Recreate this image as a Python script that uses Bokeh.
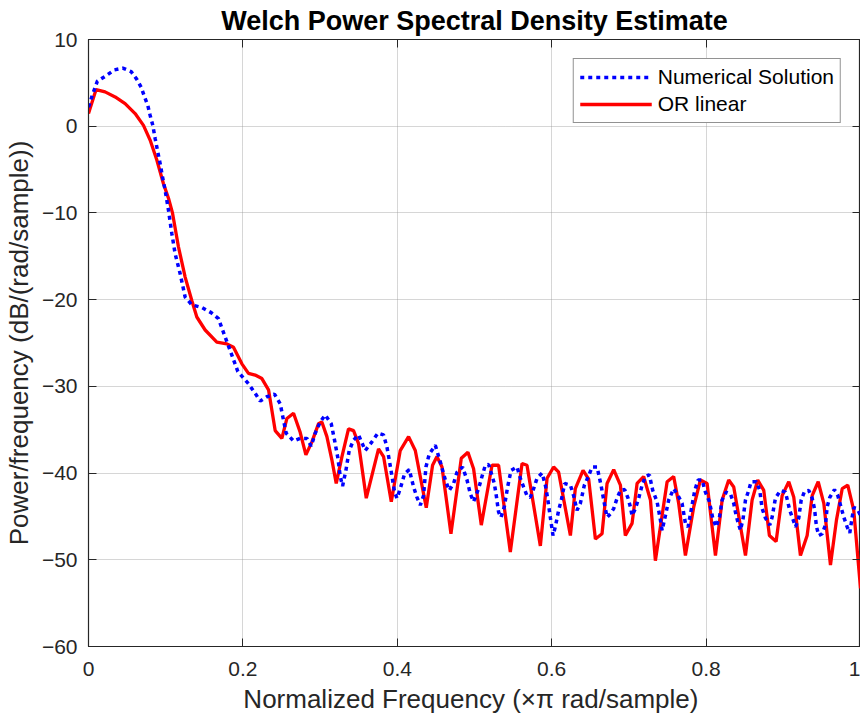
from bokeh.plotting import figure
from bokeh.models import Range1d, LinearAxis, Legend, LegendItem, FixedTicker
from bokeh.embed import file_html
from bokeh.resources import INLINE

# ---- data ----
red_x = [0, 0.0098, 0.0215, 0.0345, 0.0474, 0.0604, 0.0712, 0.0798, 0.0885, 0.097,
         0.1036, 0.1088, 0.1165, 0.1252, 0.1338, 0.1403, 0.1511, 0.1662, 0.1792, 0.1878,
         0.1987, 0.2072, 0.2159, 0.2246, 0.2332, 0.2418, 0.2505, 0.2570, 0.2656, 0.2742,
         0.2816, 0.2894, 0.2980, 0.3023, 0.3088, 0.3153, 0.3209, 0.3283, 0.3368, 0.3433,
         0.3498, 0.3598, 0.3757, 0.3822, 0.3922, 0.4038, 0.4146, 0.4233, 0.4375, 0.4457,
         0.4514, 0.4579, 0.4695, 0.4829, 0.4915, 0.4988, 0.5088, 0.5227, 0.5312, 0.5464,
         0.5616, 0.5680, 0.5853, 0.5940, 0.6025, 0.6090, 0.6242, 0.6306, 0.6406, 0.6479,
         0.6566, 0.6652, 0.6717, 0.6803, 0.6890, 0.6954, 0.7041, 0.7106, 0.7191, 0.7279,
         0.7343, 0.7495, 0.7580, 0.7645, 0.7732, 0.7840, 0.7926, 0.8013, 0.8121, 0.8208,
         0.8293, 0.8358, 0.8510, 0.8596, 0.8669, 0.8747, 0.8820, 0.8907, 0.8985, 0.9071,
         0.9136, 0.9222, 0.9309, 0.9374, 0.9452, 0.9525, 0.9611, 0.9689, 0.9763, 0.9835,
         0.9913, 1.0]
red_y = [1.46, 4.23, 3.96, 3.38, 2.61, 1.46, 0.1, -1.6, -3.9, -6.6,
         -8.3, -10.0, -13.9, -17.4, -20.1, -22.0, -23.5, -24.9, -25.1, -25.5,
         -27.4, -28.5, -28.7, -29.1, -30.4, -35.1, -36.0, -33.7, -33.1, -35.3,
         -37.9, -36.4, -34.3, -34.1, -35.8, -38.5, -41.2, -38.1, -34.9, -35.1,
         -36.6, -42.9, -37.2, -38.1, -43.3, -37.4, -35.8, -37.4, -44.0, -39.1,
         -38.1, -39.3, -47.0, -38.3, -37.6, -39.5, -46.0, -39.1, -39.1, -49.1,
         -38.9, -39.1, -48.4, -40.6, -39.3, -39.9, -47.2, -41.8, -39.7, -40.7,
         -47.6, -47.0, -41.2, -39.6, -41.4, -47.2, -45.8, -41.2, -40.4, -43.1,
         -50.1, -41.0, -40.4, -43.5, -49.5, -43.9, -40.8, -41.2, -49.5, -43.1,
         -40.8, -41.6, -49.5, -43.1, -40.8, -42.0, -47.2, -47.9, -42.6, -41.0,
         -42.8, -49.5, -47.2, -42.6, -41.0, -43.5, -50.6, -45.4, -41.8, -41.4,
         -44.3, -53.3]

blue_x = [0, 0.0043, 0.0115, 0.0224, 0.0336, 0.0444, 0.0552, 0.0626, 0.0682, 0.0725,
          0.0768, 0.0798, 0.0833, 0.0863, 0.0898, 0.0928, 0.0958, 0.0993, 0.1036, 0.1080,
          0.1122, 0.1187, 0.1252, 0.1338, 0.1468, 0.1589, 0.1684, 0.1770, 0.1857, 0.1935,
          0.2072, 0.2159, 0.2224, 0.2311, 0.2409, 0.2483, 0.2526, 0.2561, 0.2656, 0.2742,
          0.2829, 0.2885, 0.2937, 0.3002, 0.3066, 0.3144, 0.3187, 0.3231, 0.3261, 0.3291,
          0.3334, 0.3377, 0.3433, 0.3498, 0.3585, 0.3671, 0.3749, 0.3822, 0.3866, 0.3900,
          0.3939, 0.3965, 0.3996, 0.4038, 0.4094, 0.4155, 0.4211, 0.4255, 0.4298, 0.4340,
          0.4371, 0.4414, 0.4492, 0.4557, 0.4622, 0.4673, 0.4729, 0.4773, 0.4846, 0.4903,
          0.4946, 0.4988, 0.5053, 0.5097, 0.5140, 0.5183, 0.5257, 0.5282, 0.5312, 0.5343,
          0.5386, 0.5429, 0.5473, 0.5551, 0.5594, 0.5636, 0.5680, 0.5723, 0.5766, 0.5810,
          0.5875, 0.5918, 0.5947, 0.5982, 0.6017, 0.6047, 0.6090, 0.6125, 0.6168, 0.6242,
          0.6284, 0.6328, 0.6371, 0.6423, 0.6479, 0.6523, 0.6588, 0.6639, 0.6682, 0.6717,
          0.6760, 0.6803, 0.6847, 0.6890, 0.6945, 0.6989, 0.7019, 0.7041, 0.7084, 0.7127,
          0.7171, 0.7214, 0.7265, 0.7309, 0.7365, 0.7408, 0.7430, 0.7473, 0.7516, 0.7580,
          0.7637, 0.7689, 0.7732, 0.7767, 0.7810, 0.7853, 0.7896, 0.7948, 0.7991, 0.8043,
          0.8086, 0.8130, 0.8173, 0.8208, 0.8260, 0.8315, 0.8358, 0.8380, 0.8410, 0.8445,
          0.8480, 0.8510, 0.8552, 0.8583, 0.8652, 0.8695, 0.8726, 0.8769, 0.8825, 0.8855,
          0.8898, 0.8963, 0.9028, 0.9084, 0.9128, 0.9158, 0.9200, 0.9232, 0.9275, 0.9330,
          0.9374, 0.9404, 0.9430, 0.9460, 0.9503, 0.9546, 0.9568, 0.9602, 0.9663, 0.9706,
          0.9741, 0.9784, 0.9827, 0.9861, 0.9892, 0.9913, 0.9957, 1.0]
blue_y = [2.2, 3.4, 5.2, 5.8, 6.5, 6.7, 6.3, 5.4, 4.5, 3.4,
          2.4, 1.27, 0.1, -1.4, -3.0, -4.3, -5.8, -7.4, -9.7, -12.4,
          -14.7, -17.0, -19.7, -20.6, -20.9, -21.5, -22.2, -24.3, -26.4, -28.3,
          -29.7, -30.8, -31.7, -31.2, -30.9, -32.0, -33.9, -35.4, -36.3, -36.0,
          -36.0, -36.9, -35.4, -34.1, -33.3, -34.3, -36.2, -38.3, -40.4, -41.5,
          -39.7, -37.4, -36.2, -35.6, -37.4, -36.4, -35.4, -35.6, -37.0, -38.7,
          -40.8, -42.2, -42.9, -41.8, -40.1, -39.6, -41.6, -42.8, -43.7, -42.6,
          -39.3, -37.8, -36.8, -38.7, -40.8, -42.0, -41.2, -39.9, -39.3, -40.8,
          -42.4, -43.3, -41.8, -40.4, -39.1, -39.0, -41.2, -42.6, -44.5, -45.1,
          -43.9, -41.6, -39.7, -39.3, -40.6, -41.6, -42.6, -42.8, -41.8, -40.6,
          -40.0, -41.4, -42.9, -45.1, -47.2, -46.2, -44.3, -43.1, -41.2, -41.4,
          -42.6, -44.3, -43.5, -41.4, -40.3, -39.3, -39.3, -41.4, -43.5, -45.1,
          -44.7, -44.1, -42.9, -42.0, -41.9, -42.9, -43.9, -44.9, -44.1, -42.9,
          -41.4, -40.4, -40.2, -42.0, -43.3, -45.4, -46.6, -44.9, -43.1, -41.8,
          -42.6, -43.5, -45.8, -46.2, -44.1, -42.0, -40.8, -40.8, -42.2, -43.3,
          -45.2, -46.2, -45.1, -43.1, -42.2, -42.4, -43.5, -44.5, -45.6, -46.6,
          -45.2, -43.1, -42.0, -41.0, -41.0, -42.0, -44.1, -45.2, -46.0, -45.1,
          -42.9, -42.0, -42.2, -44.3, -45.4, -46.2, -45.2, -43.1, -42.1, -42.0,
          -42.9, -44.1, -46.2, -47.2, -47.0, -46.0, -43.9, -42.8, -41.9, -42.6,
          -43.7, -45.1, -46.2, -46.9, -45.1, -44.0, -44.1, -44.9]

x_ticks = [0, 0.2, 0.4, 0.6, 0.8, 1]
y_ticks = [-60, -50, -40, -30, -20, -10, 0, 10]
series_labels = ["Numerical Solution", "OR linear"]
title_text = "Welch Power Spectral Density Estimate"
x_label = "Normalized Frequency  (\u00d7\u03c0 rad/sample)"
y_label = "Power/frequency (dB/(rad/sample))"

FONT = "Liberation Sans"
AX = "#262626"

p = figure(width=860, height=720, output_backend="svg", toolbar_location=None,
           x_range=Range1d(0, 1), y_range=Range1d(-60, 10),
           min_border_left=88, min_border_right=0, min_border_top=39, min_border_bottom=74)

p.title.text = title_text
p.title.align = "center"
p.title.text_font = FONT
p.title.text_font_size = "27px"
p.title.text_font_style = "bold"
p.title.text_color = "black"
p.title.offset = 0
p.title.standoff = 7

p.outline_line_color = AX
p.outline_line_width = 1.2
p.background_fill_color = "white"
p.border_fill_color = "white"

for ax in (p.xaxis[0], p.yaxis[0]):
    ax.axis_line_color = AX
    ax.major_tick_line_color = AX
    ax.major_tick_in = 8
    ax.major_tick_out = 0
    ax.minor_tick_line_color = None
    ax.major_label_text_font = FONT
    ax.major_label_text_font_size = "21px"
    ax.major_label_text_color = AX
    ax.axis_label_text_font = FONT
    ax.axis_label_text_font_size = "26px"
    ax.axis_label_text_font_style = "normal"
    ax.axis_label_text_color = AX

p.xaxis[0].ticker = FixedTicker(ticks=x_ticks)
p.yaxis[0].ticker = FixedTicker(ticks=y_ticks)
p.xaxis[0].major_label_overrides = {0: "0", 1: "1"}
p.xaxis[0].axis_label = x_label
p.yaxis[0].axis_label = y_label
p.xaxis[0].major_label_standoff = 15
p.yaxis[0].major_label_standoff = 11
p.xaxis[0].axis_label_standoff = 5
p.yaxis[0].axis_label_standoff = 5

for loc, ticks in (("right", y_ticks), ("above", x_ticks)):
    a = LinearAxis(ticker=FixedTicker(ticks=ticks))
    a.axis_line_color = AX
    a.major_tick_line_color = AX
    a.major_tick_in = 8
    a.major_tick_out = 0
    a.minor_tick_line_color = None
    a.major_label_text_font_size = "0px"
    a.major_label_standoff = 0
    p.add_layout(a, loc)

for g in (p.xgrid[0], p.ygrid[0]):
    g.grid_line_color = "#9a9a9a"
    g.grid_line_alpha = 0.8
    g.grid_line_dash = "1 1"
    g.grid_line_width = 1
p.xgrid[0].ticker = FixedTicker(ticks=x_ticks)
p.ygrid[0].ticker = FixedTicker(ticks=y_ticks)

red = p.line(red_x, red_y, line_color="#ff0000", line_width=3.3)
blue = p.line(blue_x, blue_y, line_color="#0000ff", line_width=3.5, line_dash="4 4")

legend = Legend(items=[LegendItem(label=series_labels[0], renderers=[blue]),
                       LegendItem(label=series_labels[1], renderers=[red])],
                location="top_right")
legend.label_text_font = FONT
legend.label_text_font_size = "21px"
legend.label_text_color = "black"
legend.glyph_width = 72
legend.glyph_height = 24
legend.label_height = 24
legend.spacing = 3
legend.padding = 6
legend.margin = 19
legend.label_standoff = 6
legend.border_line_color = AX
legend.border_line_width = 1
legend.background_fill_alpha = 1
p.add_layout(legend, "center")

open("out.html", "w").write(file_html(p, INLINE))
